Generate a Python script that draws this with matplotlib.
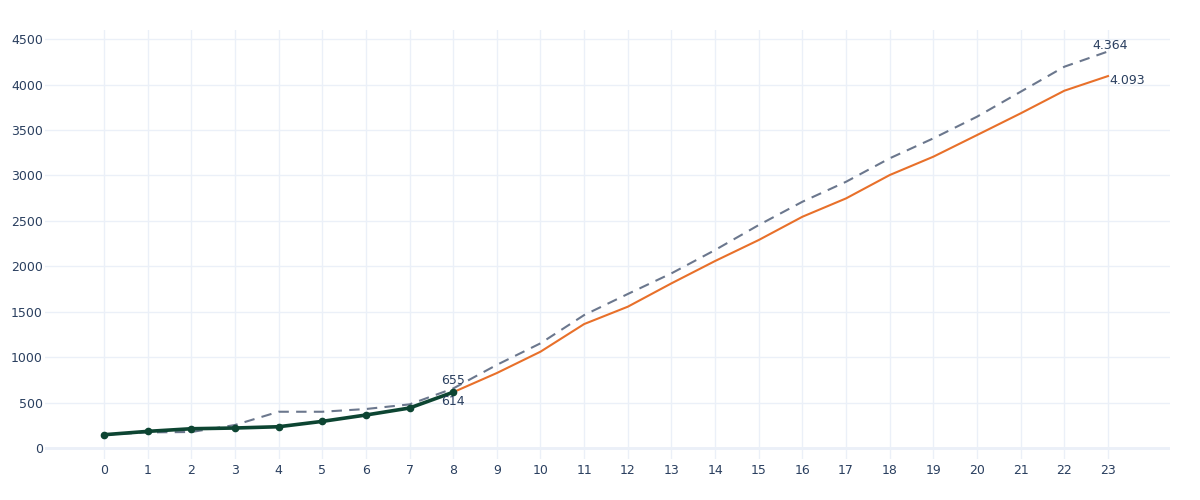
import matplotlib
matplotlib.use("Agg")
import matplotlib.pyplot as plt

plt.rcParams['font.family'] = ['DejaVu Sans']

x_all = list(range(24))
dashed_vals = [146, 172, 176, 253, 399, 399, 429, 480, 655, 915, 1152, 1463, 1695,
               1922, 2179, 2454, 2710, 2930, 3188, 3408, 3646, 3921, 4196, 4364]
x_actual = list(range(9))
actual_vals = [146, 183, 212, 220, 234, 293, 363, 440, 614]
x_fore = list(range(8, 24))
fore_vals = [614, 825, 1060, 1364, 1555, 1812, 2058, 2289, 2545, 2747, 3004,
             3206, 3444, 3683, 3932, 4093]
y_ticks = [0, 500, 1000, 1500, 2000, 2500, 3000, 3500, 4000, 4500]

TXT = '#2a3f5f'
GRID = '#ebf0f8'

fig = plt.figure(figsize=(12, 5), dpi=100)
ax = fig.add_axes([45/1200, 41/500, 1125/1200, 429/500])

ax.plot(x_all, dashed_vals, color='#6b778d', lw=1.5, dashes=(5, 3.5), zorder=3)
ax.plot(x_fore, fore_vals, color='#e8702a', lw=1.5, zorder=4)
ax.plot(x_actual, actual_vals, color='#0d4532', lw=2.6, marker='o', ms=4.5, zorder=5)

ax.annotate('655', (8, dashed_vals[8]), xytext=(0, 5.5), textcoords='offset points',
            ha='center', va='center', color=TXT, fontsize=9, zorder=6)
ax.annotate('614', (8, fore_vals[0]), xytext=(0, -6.5), textcoords='offset points',
            ha='center', va='center', color=TXT, fontsize=9, zorder=6)
ax.annotate('4.364', (23, dashed_vals[-1]), xytext=(1.5, 4.5), textcoords='offset points',
            ha='center', va='center', color=TXT, fontsize=9, zorder=6)
ax.annotate('4.093', (23, fore_vals[-1]), xytext=(1, -3.5), textcoords='offset points',
            ha='left', va='center', color=TXT, fontsize=9, zorder=6)

ax.set_xlim(-1.35, 24.42)
ax.set_ylim(-121, 4600)
ax.set_xticks(x_all)
ax.set_xticklabels([str(v) for v in x_all])
ax.set_yticks(y_ticks)
ax.set_yticklabels([str(v) for v in y_ticks])
ax.grid(True, color=GRID, lw=1, zorder=0)
ax.axhline(0, color=GRID, lw=2, zorder=1)
for s in ax.spines.values():
    s.set_visible(False)
ax.tick_params(axis='both', length=0, colors=TXT, labelsize=9)
ax.tick_params(axis='x', pad=3.5)
ax.tick_params(axis='y', pad=1.5)

fig.savefig('out.png', dpi=100)
